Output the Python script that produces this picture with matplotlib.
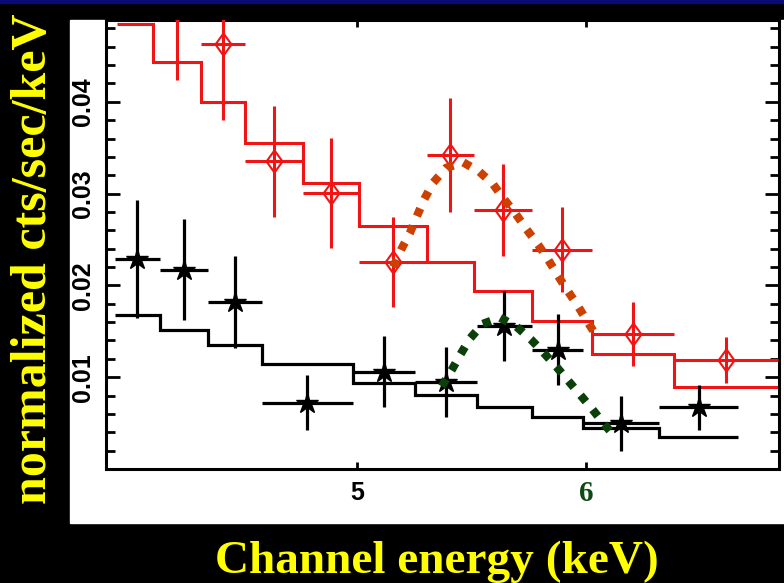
import numpy as np
import matplotlib.pyplot as plt
from matplotlib.patches import Rectangle
import matplotlib.transforms as mtransforms

# black spectrum (stars) - bin edges in keV, values in cts/sec/keV
blk_edges = [3.943, 4.140, 4.351, 4.584, 4.983, 5.255, 5.524, 5.764, 5.988, 6.320, 6.665]
blk_y = [0.0229, 0.0217, 0.0182, 0.0072, 0.0106, 0.0095, 0.0156, 0.0130, 0.0050, 0.0067]
blk_err = [0.0064, 0.0055, 0.0050, 0.0030, 0.0039, 0.0038, 0.0038, 0.0039, 0.0030, 0.0025]
blk_model = [0.0168, 0.0151, 0.0135, 0.0114, 0.0094, 0.0081, 0.0068, 0.0057, 0.0045, 0.0035]

# red spectrum (diamonds); first model bin has no visible data point
red_edges = [3.951, 4.108, 4.317, 4.511, 4.763, 5.010, 5.304, 5.511, 5.763, 6.025, 6.386, 6.840]
red_model = [0.0485, 0.0443, 0.0400, 0.0355, 0.0311, 0.0265, 0.0226, 0.0194, 0.0161, 0.0125, 0.0089]
red_y = [0.0500, 0.0463, 0.0335, 0.0301, 0.0226, 0.0342, 0.0282, 0.0239, 0.0147, 0.0119]
red_err = [0.0076, 0.0083, 0.0060, 0.0060, 0.0049, 0.0062, 0.0050, 0.0046, 0.0035, 0.0025]

# hand drawn line profiles (dotted)
orange_x = [5.158, 5.195, 5.231, 5.261, 5.294, 5.333, 5.389, 5.464, 5.534, 5.595,
            5.642, 5.690, 5.741, 5.792, 5.835, 5.879, 5.923, 5.966, 6.010, 6.054]
orange_y = [0.0220, 0.0240, 0.0257, 0.0275, 0.0294, 0.0312, 0.0328, 0.0334, 0.0324, 0.0310,
            0.0294, 0.0279, 0.0261, 0.0244, 0.0228, 0.0210, 0.0193, 0.0177, 0.0159, 0.0142]
green_x = [5.370, 5.414, 5.450, 5.493, 5.549, 5.624, 5.697, 5.760, 5.814, 5.872,
           5.923, 5.974, 6.025, 6.079, 6.127]
green_y = [0.0090, 0.0108, 0.0124, 0.0142, 0.0158, 0.0165, 0.0155, 0.0141, 0.0127, 0.0111,
           0.0096, 0.0081, 0.0066, 0.0049, 0.0035]

RED = '#f01414'
YELLOW = '#ffff00'

fig = plt.figure(figsize=(7.84, 5.83), dpi=100, facecolor='black')
fig.patches.append(Rectangle((0, 1 - 3 / 583), 1, 3 / 583, transform=fig.transFigure,
                             color='#0b0b78', zorder=-5))
fig.patches.append(Rectangle((70 / 784, 1 - 523 / 583), 714 / 784, 503 / 583,
                             transform=fig.transFigure, color='white', zorder=-5))

ax = fig.add_axes([106 / 784, 1 - 469 / 583, 673 / 784, 449 / 583])
ax.set_facecolor('white')

be = np.array(blk_edges)
bx = (be[:-1] + be[1:]) / 2
bxe = (be[1:] - be[:-1]) / 2
re_ = np.array(red_edges)
rx = ((re_[:-1] + re_[1:]) / 2)[1:]
rxe = ((re_[1:] - re_[:-1]) / 2)[1:]

ax.stairs(red_model, red_edges, baseline=None, color=RED, lw=2.2, zorder=2)
ax.stairs(blk_model, blk_edges, baseline=None, color='black', lw=2.3, zorder=2)

diamond = [(0, 1), (0.72, 0), (0, -1), (-0.72, 0), (0, 1)]
ax.errorbar(rx, red_y, xerr=rxe, yerr=red_err, fmt='none', ecolor=RED, elinewidth=2.2,
            capsize=0, zorder=3)
ax.plot(rx, red_y, ls='none', marker=diamond, ms=16, mfc='none', mec=RED, mew=1.5, zorder=4)
ax.errorbar(bx, blk_y, xerr=bxe, yerr=blk_err, fmt='none', ecolor='black', elinewidth=2.3,
            capsize=0, zorder=3)
ax.plot(bx, blk_y, ls='none', marker='*', ms=16, color='black', zorder=4)

ax.plot(orange_x, orange_y, color='#cc4000', lw=6, dashes=(1, 1.25),
        dash_capstyle='butt', zorder=5)
ax.plot(green_x, green_y, color='#0b400b', lw=6, dashes=(1, 1.25),
        dash_capstyle='butt', zorder=5)

ax.set_xlim(3.904, 6.843)
ax.set_ylim(0, 0.04891)

ax.set_xticks([5, 6])
ax.set_xticklabels(['5', ''])
ax.set_yticks([0.01, 0.02, 0.03, 0.04])
ax.set_yticklabels(['0.01', '0.02', '0.03', '0.04'], rotation=90, va='center')
ax.set_yticks(np.arange(0.002, 0.049, 0.002), minor=True)
ax.tick_params(axis='x', which='major', direction='in', top=True, length=5, width=2,
               pad=9, labelsize=18, labelcolor='black')
ax.tick_params(axis='y', which='major', direction='in', right=True, length=10, width=2,
               pad=8, labelsize=18)
ax.tick_params(axis='y', which='minor', direction='in', right=True, length=6.5, width=2)
for lab in ax.get_xticklabels() + ax.get_yticklabels():
    lab.set_fontfamily('Liberation Sans')
    lab.set_fontweight('bold')
for sp in ax.spines.values():
    sp.set_linewidth(2.2)

# the "6" label is set in green serif on the original slide
trans = mtransforms.blended_transform_factory(ax.transData, ax.transAxes)
ax.text(6, -0.025, '6', transform=trans, ha='center', va='top', color='#0f4a14',
        fontsize=21, fontweight='bold', family='Liberation Serif')

fig.text(437 / 784, 1 - 573 / 583, 'Channel energy (keV)', ha='center', va='baseline',
         color=YELLOW, fontsize=34, fontweight='bold', family='Liberation Serif')
fig.text(34 / 784, 1 - 259 / 583, 'normalized cts/sec/keV', rotation=90, ha='center',
         va='center', color=YELLOW, fontsize=36, fontweight='bold', family='Liberation Serif')

fig.savefig('out.png', dpi=100, facecolor='black')
